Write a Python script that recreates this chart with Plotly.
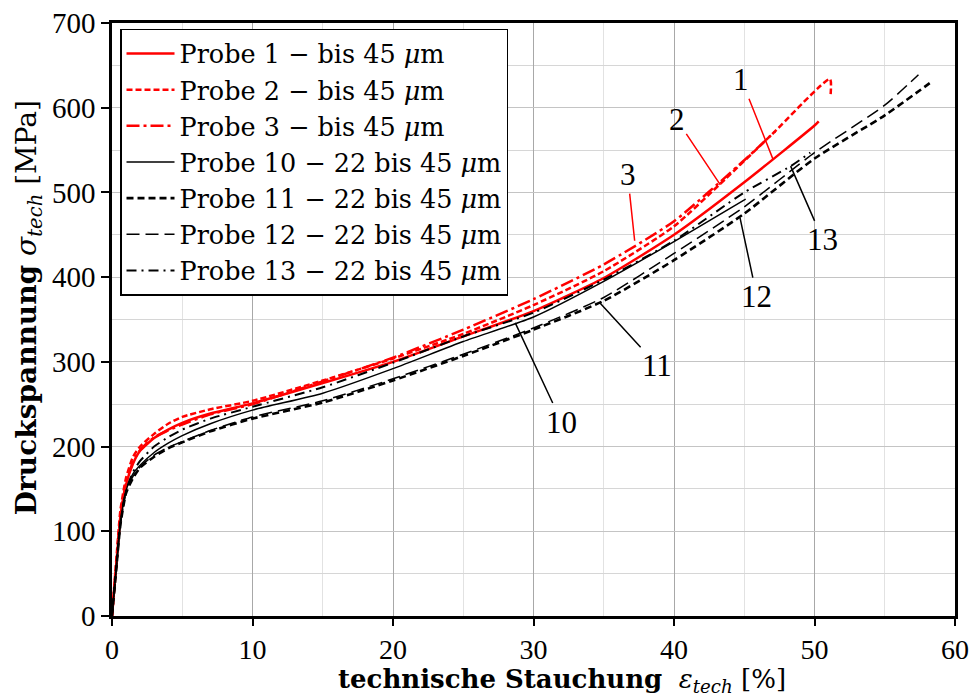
import plotly.graph_objects as go

# ---------------- data ----------------
x_p1 = [0, 0.3, 0.6, 1, 1.5, 2, 3, 4, 5, 7, 10, 15, 20, 25, 30, 35, 40, 45, 50, 50.3]
y_p1 = [0, 60, 115, 155, 180, 195, 210, 220, 228, 239, 251, 275, 300, 330, 360, 399, 450, 512, 579, 584]

x_p2 = [0, 0.3, 0.6, 1, 1.5, 2, 3, 4, 5, 7, 10, 15, 20, 25, 30, 35, 40, 43.6, 47, 51.1, 51.15]
y_p2 = [0, 65, 125, 163, 188, 200, 215, 227, 235, 244, 254, 278, 304, 333, 367, 407, 460, 515, 569, 634, 616]

x_p3 = [0, 0.3, 0.6, 1, 1.5, 2, 3, 4, 5, 7, 10, 15, 20, 25, 30, 35, 40, 45, 47.2]
y_p3 = [0, 60, 118, 157, 182, 196, 211, 219, 226, 238, 250, 277, 305, 338, 374, 415, 466, 538, 572]

x_p10 = [0, 0.3, 0.6, 1, 1.5, 2, 3, 4, 5, 7, 10, 15, 20, 25, 30, 35, 40, 45.1]
y_p10 = [0, 55, 110, 148, 168, 178, 193, 204, 213, 227, 243, 263, 292, 324, 353, 395, 442, 492]

x_p11 = [0, 0.3, 0.6, 1, 1.5, 2, 3, 4, 5, 7, 10, 15, 20, 25, 30, 35, 40, 45, 50, 55, 58.2]
y_p11 = [0, 55, 108, 145, 163, 175, 188, 198, 205, 218, 233, 252, 278, 307, 338, 372, 420, 475, 540, 591, 629]

x_p12 = [0, 0.3, 0.6, 1, 1.5, 2, 3, 4, 5, 7, 10, 15, 20, 25, 30, 35, 40, 45, 50, 55, 57.4]
y_p12 = [0, 55, 108, 146, 165, 176, 190, 199, 206, 219, 235, 254, 280, 309, 340, 376, 428, 483, 547, 603, 639]

x_p13 = [0, 0.3, 0.6, 1, 1.5, 2, 3, 4, 5, 7, 10, 15, 20, 25, 30, 35, 40, 45, 48.3, 49.7]
y_p13 = [0, 55, 110, 148, 170, 183, 200, 211, 220, 233, 247, 270, 299, 330, 358, 397, 443, 500, 531, 547]

legend_names = [
    "Probe 1 \u2212 bis 45 <i>\u03bc</i>m",
    "Probe 2 \u2212 bis 45 <i>\u03bc</i>m",
    "Probe 3 \u2212 bis 45 <i>\u03bc</i>m",
    "Probe 10 \u2212 22 bis 45 <i>\u03bc</i>m",
    "Probe 11 \u2212 22 bis 45 <i>\u03bc</i>m",
    "Probe 12 \u2212 22 bis 45 <i>\u03bc</i>m",
    "Probe 13 \u2212 22 bis 45 <i>\u03bc</i>m",
]

# curve labels: text, text position, arrow target
label_text = ["1", "2", "3", "10", "11", "12", "13"]
label_tx = [44.8, 40.2, 36.7, 32.0, 38.8, 45.9, 50.6]
label_ty = [633, 586, 521, 229, 296, 377, 444]
label_px = [47.05, 43.3, 37.2, 28.7, 34.7, 44.7, 48.3]
label_py = [539, 509, 443, 346, 370, 470, 531]
label_col = ["red", "red", "red", "black", "black", "black", "black"]

x_ticks = [0, 10, 20, 30, 40, 50, 60]
y_ticks = [0, 100, 200, 300, 400, 500, 600, 700]

# ---------------- figure ----------------
NUMFONT = "Liberation Serif"
TXTFONT = "DejaVu Serif"
series = [
    (x_p1, y_p1, "red", 2.5, "solid"),
    (x_p2, y_p2, "red", 2.5, "6px,3px"),
    (x_p3, y_p3, "red", 2.5, "13px,4px,3px,4px"),
    (x_p10, y_p10, "black", 1.5, "solid"),
    (x_p11, y_p11, "black", 2.6, "7px,4px"),
    (x_p12, y_p12, "black", 1.5, "13px,6px"),
    (x_p13, y_p13, "black", 2.0, "10px,5px,2px,5px"),
]

fig = go.Figure()
for (xs, ys, col, w, dash), name in zip(series, legend_names):
    fig.add_trace(go.Scatter(
        x=xs, y=ys, mode="lines", name=name,
        line=dict(color=col, width=w, dash=dash, shape="spline", smoothing=0.6),
    ))

for t, tx, ty, px_, py_, c in zip(label_text, label_tx, label_ty, label_px, label_py, label_col):
    fig.add_annotation(
        x=px_, y=py_, ax=tx, ay=ty, xref="x", yref="y", axref="x", ayref="y",
        text=t, showarrow=True, arrowhead=0, arrowwidth=1.5, arrowcolor=c,
        font=dict(family=NUMFONT, size=31, color="black"), standoff=0, startstandoff=0,
    )

# axis titles as annotations
fig.add_annotation(
    x=0.534, y=-0.108, xref="paper", yref="paper", showarrow=False,
    xanchor="center", yanchor="middle",
    text="<b>technische Stauchung</b>  <i>\u03b5<sub>tech</sub></i> [%]",
    font=dict(family=TXTFONT, size=26, color="black"),
)
fig.add_annotation(
    x=-0.099, y=0.52, xref="paper", yref="paper", showarrow=False,
    xanchor="center", yanchor="middle", textangle=-90,
    text="<b>Druckspannung</b> <i>\u03c3<sub>tech</sub></i> [MPa]",
    font=dict(family=TXTFONT, size=28, color="black"),
)

fig.update_xaxes(
    range=[0, 60], tickvals=x_ticks, ticks="outside", ticklen=7, tickwidth=2,
    tickcolor="black", showline=True, linewidth=2.5, linecolor="black", mirror=True,
    showgrid=True, gridcolor="#a8a8a8", gridwidth=1, zeroline=False, automargin=False,
    minor=dict(dtick=5, showgrid=True, gridcolor="#e2e2e2", gridwidth=1),
    tickfont=dict(family=NUMFONT, size=28, color="black"),
)
fig.update_yaxes(
    range=[0, 700], tickvals=y_ticks, ticks="outside", ticklen=8, tickwidth=2,
    tickcolor="black", showline=True, linewidth=2.5, linecolor="black", mirror=True,
    showgrid=True, gridcolor="#c4c4c4", gridwidth=1, zeroline=False, automargin=False,
    minor=dict(dtick=50, showgrid=True, gridcolor="#d6d6d6", gridwidth=1),
    tickfont=dict(family=NUMFONT, size=29, color="black"),
)

fig.update_layout(
    width=971, height=696,
    margin=dict(l=112, r=16, t=23, b=80, autoexpand=False),
    plot_bgcolor="white", paper_bgcolor="white",
    font=dict(family=TXTFONT, color="black"),
    legend=dict(
        x=0.0095, y=0.99, xanchor="left", yanchor="top",
        bgcolor="white", bordercolor="black", borderwidth=1.5,
        font=dict(family=TXTFONT, size=25.5, color="black"),
        tracegroupgap=0, itemwidth=48,
    ),
    showlegend=True,
)

fig.write_html(
    "out.html",
    config={"displayModeBar": False},
    post_script="document.body.style.margin='0';document.body.style.overflow='hidden';",
)
